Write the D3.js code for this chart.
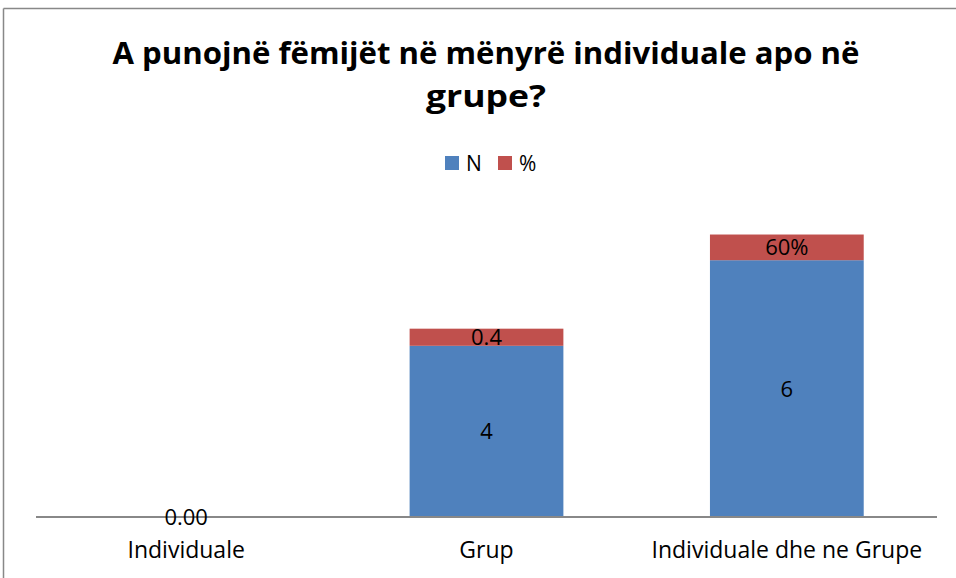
<!DOCTYPE html>
<html><head><meta charset="utf-8">
<script src="https://cdn.jsdelivr.net/npm/d3@7"></script>
<style>body{margin:0;background:#fff}svg{display:block}text{font-family:"Open Sans",Lato,sans-serif}</style>
</head><body>
<script>
const categories = ["Individuale", "Grup", "Individuale dhe ne Grupe"];
const seriesN = [0, 4, 6];
const seriesPct = [0, 0.4, 0.6];
const labelsN = ["0.00", "4", "6"];
const labelsPct = ["", "0.4", "60%"];
const seriesNames = ["N", "%"];
const colors = ["#4F81BD", "#C0504D"];
const titleLines = ["A punojnë fëmijët në mënyrë individuale apo në", "grupe?"];

const W = 956, H = 578;
const FONT = "'Open Sans',Lato,sans-serif";
const svg = d3.select("body").append("svg").attr("width", W).attr("height", H);

// outer frame (partially visible)
svg.append("line").attr("x1", 3.5).attr("y1", 8.5).attr("x2", W).attr("y2", 8.5).attr("stroke", "#888").attr("stroke-width", 1.5);
svg.append("line").attr("x1", 3.5).attr("y1", 8.5).attr("x2", 3.5).attr("y2", H).attr("stroke", "#888").attr("stroke-width", 1.5);

const x = d3.scaleBand().domain(categories).range([36, 937]).paddingInner(0.488).paddingOuter(0.244);
const y = d3.scaleLinear().domain([0, 7]).range([517, 517 - 7 * 42.8]);

// title
const tl = [64, 107];
const tw = [747, 120];
titleLines.forEach((t, i) => {
  svg.append("text").attr("x", 486).attr("y", tl[i]).attr("text-anchor", "middle")
    .attr("font-weight", "bold").attr("font-size", 30).attr("fill", "#000")
    .attr("textLength", tw[i]).attr("lengthAdjust", "spacingAndGlyphs").text(t);
});

// legend
const leg = svg.append("g");
const legX = [445, 498];
seriesNames.forEach((n, i) => {
  leg.append("rect").attr("x", legX[i]).attr("y", 156).attr("width", 14).attr("height", 14).attr("fill", colors[i]);
  leg.append("text").attr("x", legX[i] + 21).attr("y", 171).attr("font-size", 21).attr("fill", "#000").text(n);
});

// bars
const stackData = categories.map((c, i) => ({c, N: seriesN[i], P: seriesPct[i]}));
const stack = d3.stack().keys(["N", "P"])(stackData);
stack.forEach((layer, k) => {
  svg.append("g").selectAll("rect").data(layer).join("rect")
    .attr("x", d => x(d.data.c)).attr("width", x.bandwidth())
    .attr("y", d => y(d[1])).attr("height", d => y(d[0]) - y(d[1]))
    .attr("fill", colors[k]);
});

// axis
const xAxis = svg.append("g").attr("transform", "translate(0,517)")
  .call(d3.axisBottom(x).tickSize(0).tickPadding(25));
xAxis.select(".domain").attr("stroke", "#888").attr("stroke-width", 2).attr("d", "M36,0H937");
xAxis.selectAll("text").attr("font-size", 23).attr("fill", "#000").attr("font-family", FONT);

// data labels
stack.forEach((layer, k) => {
  const labs = k === 0 ? labelsN : labelsPct;
  svg.append("g").selectAll("text").data(layer).join("text")
    .attr("x", d => x(d.data.c) + x.bandwidth() / 2)
    .attr("y", d => (y(d[0]) + y(d[1])) / 2)
    .attr("dy", "0.36em").attr("text-anchor", "middle").attr("font-size", 22).attr("fill", "#000")
    .text((d, i) => labs[i]);
});
</script>
</body></html>
